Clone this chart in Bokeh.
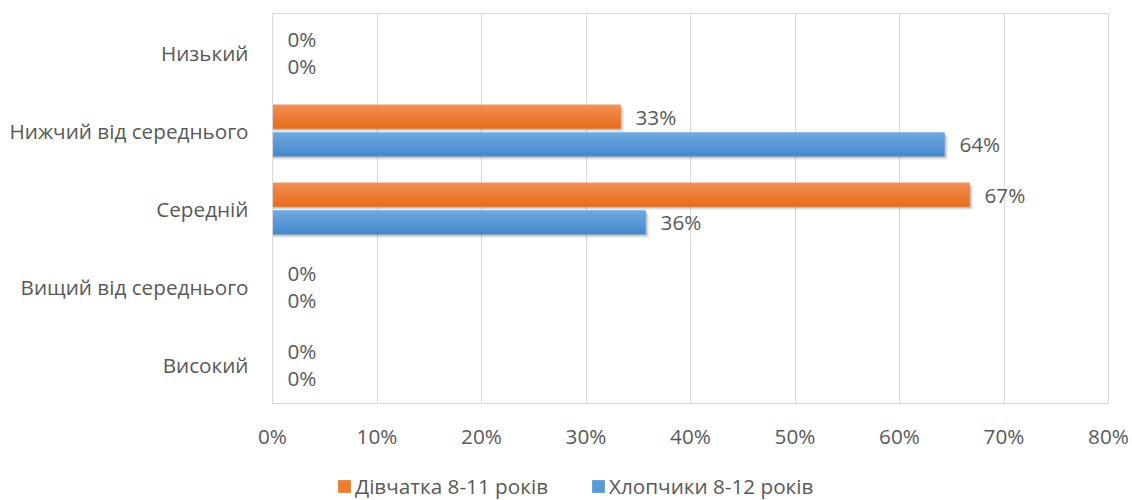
from bokeh.plotting import figure
from bokeh.layouts import column
from bokeh.models import ColumnDataSource, FactorRange, FixedTicker, Legend, LegendItem
from bokeh.transform import dodge
from bokeh.core.properties import value
from bokeh.embed import file_html
from bokeh.resources import INLINE

# Levels, listed top to bottom
categories = ["Низький", "Нижчий від середнього", "Середній",
              "Вищий від середнього", "Високий"]
girls = [0, 33.3, 66.7, 0, 0]   # Дівчатка 8-11 років, %
boys = [0, 64.3, 35.7, 0, 0]    # Хлопчики 8-12 років, %
x_ticks = [0, 10, 20, 30, 40, 50, 60, 70, 80]
series_names = ["Дівчатка 8-11 років", "Хлопчики 8-12 років"]

FONT = "Open Sans"
FONT_SIZE = "20.7px"
TEXT = "#595959"
GRID = "#D9D9D9"

p = figure(width=1132, height=452,
           y_range=FactorRange(*reversed(categories)),
           x_range=(0, 80),
           output_backend="svg", toolbar_location=None,
           min_border_left=272, min_border_right=24,
           min_border_top=13, min_border_bottom=45)

p.outline_line_color = GRID
p.outline_line_width = 1
p.background_fill_color = "white"
p.border_fill_color = "white"

# axes
p.xaxis.ticker = FixedTicker(ticks=x_ticks)
p.xaxis.major_label_overrides = {t: f"{t}%" for t in x_ticks}
p.xaxis.axis_line_color = GRID
p.xaxis.major_tick_line_color = None
p.xaxis.minor_tick_line_color = None
p.xaxis.major_tick_out = 0
p.xaxis.major_label_standoff = 18
p.yaxis.axis_line_color = GRID
p.yaxis.major_tick_line_color = None
p.yaxis.major_tick_out = 0
p.yaxis.major_label_standoff = 24
for ax in (p.xaxis, p.yaxis):
    ax.major_label_text_font = FONT
    ax.major_label_text_font_size = FONT_SIZE
    ax.major_label_text_color = TEXT

p.xgrid.ticker = FixedTicker(ticks=x_ticks)
p.xgrid.grid_line_color = GRID
p.ygrid.grid_line_color = None

src = ColumnDataSource(dict(
    cat=categories,
    girls=girls,
    boys=boys,
    girls_lbl=[f"{round(v)}%" for v in girls],
    boys_lbl=[f"{round(v)}%" for v in boys],
))

BAR_H = 0.305
series = [
    # field, vertical offset, mid colour, top colour, bottom colour
    ("girls", 0.178, "#ED7D31", "#F28F55", "#E86D1C"),
    ("boys", -0.178, "#5B9BD5", "#6EA9E0", "#4689CC"),
]


def mix(c1, c2, t):
    a = [int(c1[i:i + 2], 16) for i in (1, 3, 5)]
    b = [int(c2[i:i + 2], 16) for i in (1, 3, 5)]
    return "#" + "".join(f"{round(x + (y - x) * t):02x}" for x, y in zip(a, b))


N = 10
for field, off, mid, top, bottom in series:
    # soft drop shadow for the non-empty bars
    vals = src.data[field]
    sh = ColumnDataSource(dict(cat=[c for c, v in zip(categories, vals) if v > 0],
                               v=[v for v in vals if v > 0]))
    for dy, dx, a in ((-0.045, 0.35, 0.07), (-0.03, 0.22, 0.10), (-0.015, 0.1, 0.12)):
        p.hbar(y=dodge("cat", off + dy, range=p.y_range), left=0.05,
               right=dodge("v", dx), height=BAR_H, source=sh,
               fill_color="black", fill_alpha=a, line_color=None)
    p.hbar(y=dodge("cat", off, range=p.y_range), left=0, right=field,
           height=BAR_H, source=src, fill_color=mid, line_color=None)
    # vertical gradient, light at the top and darker at the bottom
    for k in range(N):
        yoff = off + BAR_H / 2 - (k + 0.5) * BAR_H / N
        p.hbar(y=dodge("cat", yoff, range=p.y_range), left=0, right=field,
               height=BAR_H / N * 1.08, source=src,
               fill_color=mix(top, bottom, k / (N - 1)), line_color=None)
    p.text(x=field, y=dodge("cat", off, range=p.y_range), text=field + "_lbl",
           source=src, x_offset=15, text_baseline="middle", text_align="left",
           text_font=value(FONT), text_font_size=FONT_SIZE, text_color=TEXT)

# legend strip underneath the chart (its frame lines up with the chart's frame)
lg = figure(width=1132, height=48, x_range=(0, 1), y_range=(0, 1),
            x_axis_type=None, y_axis_type=None,
            output_backend="svg", toolbar_location=None,
            min_border=0, outline_line_color=None)
lg.background_fill_color = "white"
lg.border_fill_color = "white"
items = []
for (field, off, mid, top, bottom), name in zip(series, series_names):
    # zero-length swatch renderer, only used for the legend entry
    r = lg.hbar(y=[2], left=[0], right=[0], height=1, fill_color=mid, line_color=None)
    items.append(LegendItem(label=name, renderers=[r]))

legend = Legend(items=items, orientation="horizontal",
                location=(64, 0), glyph_width=16, glyph_height=16,
                label_text_font=FONT, label_text_font_size=FONT_SIZE,
                label_text_color=TEXT, border_line_color=None,
                background_fill_alpha=0, padding=0, margin=0,
                spacing=42, label_standoff=3)
lg.add_layout(legend)

open("out.html", "w").write(file_html(column(p, lg), INLINE))
